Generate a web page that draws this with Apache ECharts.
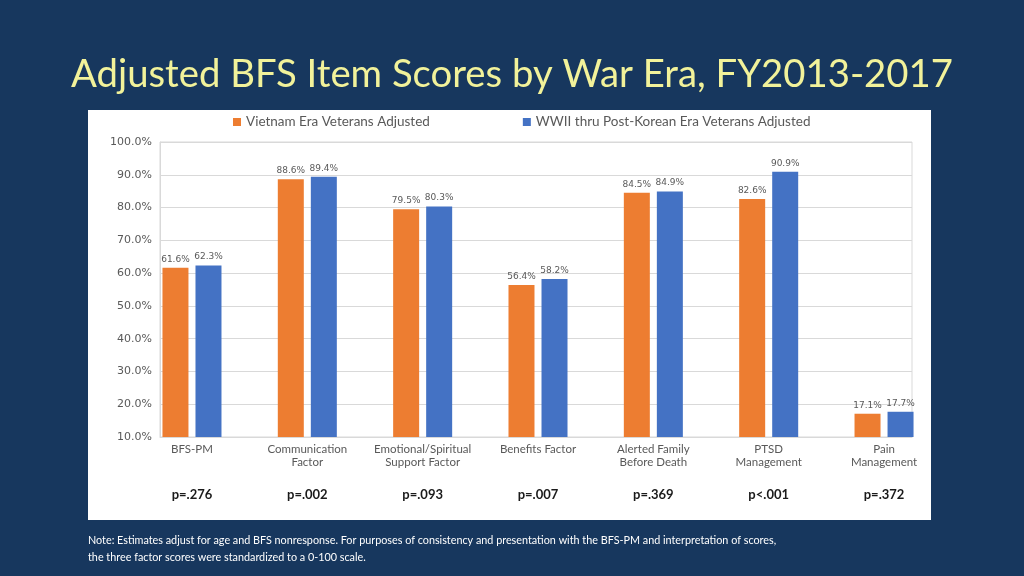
<!DOCTYPE html>
<html><head><meta charset="utf-8">
<script src="https://cdn.jsdelivr.net/npm/echarts@6/dist/echarts.min.js"></script>
<style>html,body{margin:0;padding:0;background:#17375e}#c{width:1024px;height:576px}</style>
</head><body><div id="c"></div>
<script>
var categories = [["BFS-PM",""],["Communication","Factor"],["Emotional/Spiritual","Support Factor"],["Benefits Factor",""],["Alerted Family","Before Death"],["PTSD","Management"],["Pain","Management"]];
var pValues = ["p=.276","p=.002","p=.093","p=.007","p=.369","p<.001","p=.372"];
var vietnam = [61.6, 88.6, 79.5, 56.4, 84.5, 82.6, 17.1];
var wwii = [62.3, 89.4, 80.3, 58.2, 84.9, 90.9, 17.7];
var seriesNames = ["Vietnam Era Veterans Adjusted","WWII thru Post-Korean Era Veterans Adjusted"];
var yMin = 10, yMax = 100, yStep = 10;

var catKeys = categories.map(function(c,i){return String(i);});
var chart = echarts.init(document.getElementById('c'));
var gray = '#595959';
var labelStyle = {show:true, position:'top', distance:4, color:gray, fontFamily:'DejaVu Sans', fontSize:9,
  formatter:function(p){return p.value.toFixed(1)+'%';}};
chart.setOption({
  backgroundColor:'#17375e',
  animation:false,
  title:{text:'Adjusted BFS Item Scores by War Era, FY2013-2017', left:'center', top:51,
    textStyle:{color:'#f2f29a', fontFamily:'Lato', fontWeight:'normal', fontSize:38.3}},
  graphic:[
    {type:'rect', z:-10, shape:{x:88,y:110,width:843,height:410}, style:{fill:'#ffffff'}},
    {type:'text', left:88, top:532, style:{text:'Note: Estimates adjust for age and BFS nonresponse. For purposes of consistency and presentation with the BFS-PM and interpretation of scores,\nthe three factor scores were standardized to a 0-100 scale.', fill:'#ffffff', font:'10.8px Lato', lineHeight:17}}
  ],
  legend:{left:233, top:115, padding:0, itemWidth:8, itemHeight:8, itemGap:93, icon:'rect',
    textStyle:{color:gray, fontFamily:'Lato', fontSize:13.5}, data:seriesNames},
  grid:[
    {left:134.3, right:82.3, top:142, bottom:139},
    {left:160, right:112, top:142, bottom:139, show:true, borderColor:'#d9d9d9', borderWidth:1}
  ],
  xAxis:[
    {type:'category', gridIndex:0, data:catKeys, axisLine:{show:false}, axisTick:{show:false},
     axisLabel:{margin:6, interval:0, formatter:function(v){var i=+v;var c=categories[i];
        return '{c|'+c[0]+'}\n{c|'+(c[1]||' ')+'}\n{p|'+pValues[i]+'}';},
      rich:{c:{fontFamily:'Lato', fontSize:11.5, color:gray, lineHeight:13},
            p:{fontFamily:'Lato', fontSize:13, fontWeight:'bold', color:'#1a1a1a', lineHeight:51}}}},
    {type:'category', gridIndex:1, data:catKeys, axisLine:{show:true, lineStyle:{color:'#d9d9d9'}}, axisTick:{show:false}, axisLabel:{show:false}}
  ],
  yAxis:[
    {type:'value', gridIndex:0, min:yMin, max:yMax, interval:yStep, show:false, splitLine:{show:false}},
    {type:'value', gridIndex:1, min:yMin, max:yMax, interval:yStep,
     axisLine:{show:true, lineStyle:{color:'#d9d9d9'}}, axisTick:{show:false},
     splitLine:{lineStyle:{color:'#d9d9d9'}},
     axisLabel:{color:gray, fontFamily:'DejaVu Sans', fontSize:11, margin:8, formatter:function(v){return v.toFixed(1)+'%';}}}
  ],
  series:[
    {name:seriesNames[0], type:'bar', xAxisIndex:0, yAxisIndex:0, data:vietnam, barWidth:26, barGap:'27%', itemStyle:{color:'#ed7d31'}, label:labelStyle},
    {name:seriesNames[1], type:'bar', xAxisIndex:0, yAxisIndex:0, data:wwii, barWidth:26, barGap:'27%', itemStyle:{color:'#4472c4'}, label:labelStyle}
  ]
});
</script></body></html>
